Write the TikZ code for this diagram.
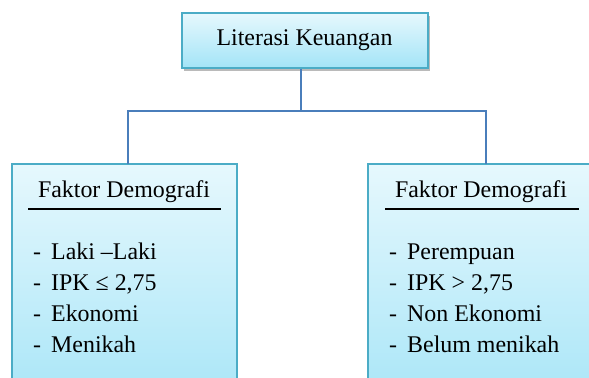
\documentclass[tikz,border=0pt]{standalone}
\usepackage{fontspec}
\setmainfont{Liberation Serif}
\usetikzlibrary{shadows,calc}
\definecolor{boxline}{HTML}{4BACC6}
\definecolor{boxtop}{HTML}{E6F8FD}
\definecolor{boxbot}{HTML}{A3E4F7}
\definecolor{conncol}{HTML}{4A7EBB}
\tikzset{
  box/.style={draw=boxline, line width=1.3bp, top color=boxtop, bottom color=boxbot, inner sep=0pt},
  conn/.style={draw=conncol, line width=1.4bp},
  txt/.style={inner sep=0pt, font=\fontsize{24}{31}\selectfont},
  itemtxt/.style={txt, anchor=base west},
  uline/.style={draw=black, line width=1.1bp}
}
\newcommand{\itm}[1]{\makebox[18bp][l]{-}#1}
\begin{document}
\begin{tikzpicture}[x=1bp,y=1bp]
\useasboundingbox (0,0) rectangle (589,-377);
\clip (0,0) rectangle (589,-377);
% boxes
\node[box, minimum width=246bp, minimum height=55bp,
  drop shadow={shadow xshift=2bp, shadow yshift=-3bp, opacity=0.45, fill=black!60}] (top) at (305,-40.5) {};
\node[box, minimum width=225bp, minimum height=260bp] (lft) at (124.5,-294) {};
\node[box, minimum width=236bp, minimum height=260bp] (rgt) at (486,-294) {};
% connectors
\coordinate (j) at (301,-111);
\coordinate (ja) at (128,-111);
\coordinate (jb) at (486,-111);
\coordinate (la) at (128,-164);
\coordinate (lb) at (486,-164);
\draw[conn] (j |- top.south) -- (j);
\draw[conn] (la) -- (ja) -- (jb) -- (lb);
% texts
\node[txt, anchor=base] (ttop) at (304.5,-45) {Literasi Keuangan};
\node[txt, anchor=base] (tl) at (124,-197) {Faktor Demografi};
\node[txt, anchor=base] (tr) at (481,-197) {Faktor Demografi};
\coordinate (ul1) at (28,-209);
\coordinate (ul2) at (221,-209);
\coordinate (ur1) at (385,-209);
\coordinate (ur2) at (579,-209);
\draw[uline] (ul1) -- (ul2);
\draw[uline] (ur1) -- (ur2);
\node[itemtxt] (l1) at (33,-259) {\itm{Laki –Laki}};
\node[itemtxt] (l2) at (33,-290) {\itm{IPK ≤ 2,75}};
\node[itemtxt] (l3) at (33,-321) {\itm{Ekonomi}};
\node[itemtxt] (l4) at (33,-352) {\itm{Menikah}};
\node[itemtxt] (r1) at (389,-259) {\itm{Perempuan}};
\node[itemtxt] (r2) at (389,-290) {\itm{IPK > 2,75}};
\node[itemtxt] (r3) at (389,-321) {\itm{Non Ekonomi}};
\node[itemtxt] (r4) at (389,-352) {\itm{Belum menikah}};
\end{tikzpicture}
\end{document}
